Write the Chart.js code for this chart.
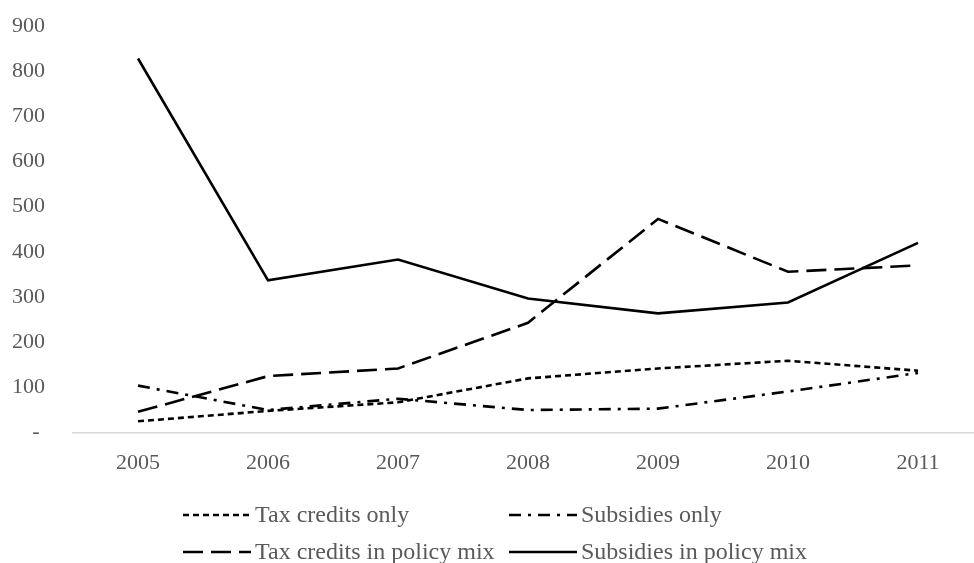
<!DOCTYPE html>
<html>
<head>
<meta charset="utf-8">
<script src="https://cdn.jsdelivr.net/npm/chart.js@4.4.1/dist/chart.umd.min.js"></script>
<style>
  html, body { margin: 0; padding: 0; background: #ffffff; overflow: hidden; }
  #wrap { position: relative; width: 990px; height: 563px; }
  #legend {
    position: absolute; left: 183px; top: 502px;
    display: grid; grid-template-columns: 326px auto; row-gap: 12px;
    font-family: "Liberation Serif", "Times New Roman", serif; font-size: 24px; color: #595959;
  }
  .item { display: flex; align-items: center; white-space: nowrap; height: 25px; }
  .item svg { margin-right: 4px; flex: none; }
</style>
</head>
<body>
<div id="wrap">
  <canvas id="c"></canvas>
  <div id="legend"></div>
</div>
<script>
const categories = ['2005', '2006', '2007', '2008', '2009', '2010', '2011'];
const seriesNames = ['Tax credits only', 'Subsidies only', 'Tax credits in policy mix', 'Subsidies in policy mix'];
const taxCreditsOnly = [25, 48, 67, 120, 142, 159, 137];
const subsidiesOnly = [104, 50, 75, 50, 53, 91, 132];
const taxCreditsMix = [46, 125, 142, 243, 473, 356, 370];
const subsidiesMix = [828, 337, 383, 297, 264, 288, 420];
const yTicks = [0, 100, 200, 300, 400, 500, 600, 700, 800, 900];

const dashes = [[6, 4], [12, 7, 3, 7], [20, 8], []];
const values = [taxCreditsOnly, subsidiesOnly, taxCreditsMix, subsidiesMix];

const datasets = seriesNames.map((name, i) => ({
  label: name,
  data: values[i],
  borderColor: '#000000',
  backgroundColor: '#000000',
  borderWidth: 2.6,
  borderDash: dashes[i],
  pointRadius: 0,
  tension: 0,
  fill: false
}));

const font = { family: '"Liberation Serif", "Times New Roman", serif', size: 22 };

new Chart(document.getElementById('c'), {
  type: 'line',
  data: { labels: categories, datasets },
  options: {
    responsive: true,
    maintainAspectRatio: false,
    animation: false,
    layout: { padding: { top: 26, right: 7, bottom: 70, left: 0 } },
    plugins: { legend: { display: false }, tooltip: { enabled: false } },
    scales: {
      x: {
        offset: true,
        grid: { display: false, drawTicks: false },
        border: { display: true, color: '#d9d9d9', width: 1.5 },
        ticks: { color: '#595959', font, padding: 17, maxRotation: 0 }
      },
      y: {
        min: 0, max: 900,
        afterFit: s => { s.width = 73; s.paddingTop = 0; s.paddingBottom = 0; },
        afterBuildTicks: s => { s.ticks = yTicks.map(v => ({ value: v })); },
        grid: { display: false, drawTicks: false },
        border: { display: false },
        ticks: {
          color: '#595959', font, padding: 28,
          callback: v => (v === 0 ? '- ' : String(v))
        }
      }
    }
  }
});

// HTML legend built from the series names and dash styles
const leg = document.getElementById('legend');
seriesNames.forEach((name, i) => {
  const d = document.createElement('div');
  d.className = 'item';
  const dash = dashes[i].length ? `stroke-dasharray="${dashes[i].join(' ')}"` : '';
  d.innerHTML = `<svg width="68" height="6"><line x1="0" y1="3" x2="68" y2="3" stroke="#000" stroke-width="2.6" ${dash}/></svg><span>${name}</span>`;
  leg.appendChild(d);
});
</script>
</body>
</html>
